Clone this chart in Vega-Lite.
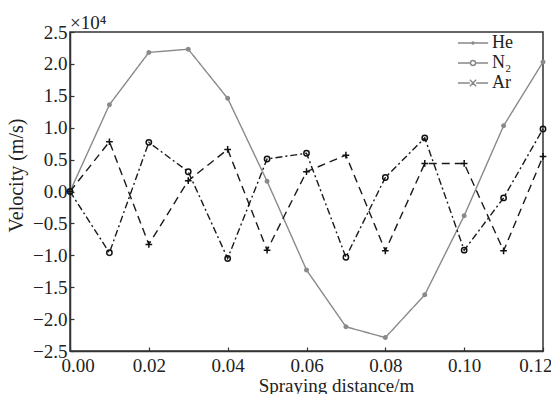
{
  "$schema": "https://vega.github.io/schema/vega-lite/v6.json",
  "width": 473,
  "height": 319,
  "autosize": {"type": "none"},
  "padding": {"left": 70, "top": 32, "right": 8, "bottom": 43},
  "config": {
    "font": "Liberation Serif",
    "view": {"stroke": "#333", "strokeWidth": 1.5},
    "axis": {
      "labelFont": "Liberation Serif", "labelFontSize": 19, "labelColor": "#222",
      "titleFont": "Liberation Serif", "titleFontSize": 20, "titleFontWeight": "normal", "titleColor": "#222",
      "domainColor": "#333", "domainWidth": 1.5, "tickColor": "#333", "tickSize": -4, "tickWidth": 1.2, "grid": false
    }
  },
  "title": {"text": "×10⁴", "anchor": "start", "frame": "group", "fontSize": 19, "font": "Liberation Serif", "fontWeight": "normal", "offset": -10, "color": "#222"},
  "data": {"values": [
    {"x": 0.00, "v": 0.00, "gas": "He"},
    {"x": 0.01, "v": 1.36, "gas": "He"},
    {"x": 0.02, "v": 2.18, "gas": "He"},
    {"x": 0.03, "v": 2.23, "gas": "He"},
    {"x": 0.04, "v": 1.46, "gas": "He"},
    {"x": 0.05, "v": 0.16, "gas": "He"},
    {"x": 0.06, "v": -1.23, "gas": "He"},
    {"x": 0.07, "v": -2.12, "gas": "He"},
    {"x": 0.08, "v": -2.29, "gas": "He"},
    {"x": 0.09, "v": -1.62, "gas": "He"},
    {"x": 0.10, "v": -0.38, "gas": "He"},
    {"x": 0.11, "v": 1.03, "gas": "He"},
    {"x": 0.12, "v": 2.03, "gas": "He"},
    {"x": 0.00, "v": 0.00, "gas": "N₂"},
    {"x": 0.01, "v": -0.96, "gas": "N₂"},
    {"x": 0.02, "v": 0.77, "gas": "N₂"},
    {"x": 0.03, "v": 0.31, "gas": "N₂"},
    {"x": 0.04, "v": -1.05, "gas": "N₂"},
    {"x": 0.05, "v": 0.51, "gas": "N₂"},
    {"x": 0.06, "v": 0.60, "gas": "N₂"},
    {"x": 0.07, "v": -1.03, "gas": "N₂"},
    {"x": 0.08, "v": 0.22, "gas": "N₂"},
    {"x": 0.09, "v": 0.84, "gas": "N₂"},
    {"x": 0.10, "v": -0.92, "gas": "N₂"},
    {"x": 0.11, "v": -0.10, "gas": "N₂"},
    {"x": 0.12, "v": 0.98, "gas": "N₂"},
    {"x": 0.00, "v": 0.00, "gas": "Ar"},
    {"x": 0.01, "v": 0.78, "gas": "Ar"},
    {"x": 0.02, "v": -0.83, "gas": "Ar"},
    {"x": 0.03, "v": 0.17, "gas": "Ar"},
    {"x": 0.04, "v": 0.66, "gas": "Ar"},
    {"x": 0.05, "v": -0.92, "gas": "Ar"},
    {"x": 0.06, "v": 0.31, "gas": "Ar"},
    {"x": 0.07, "v": 0.57, "gas": "Ar"},
    {"x": 0.08, "v": -0.93, "gas": "Ar"},
    {"x": 0.09, "v": 0.44, "gas": "Ar"},
    {"x": 0.10, "v": 0.44, "gas": "Ar"},
    {"x": 0.11, "v": -0.93, "gas": "Ar"},
    {"x": 0.12, "v": 0.55, "gas": "Ar"}
  ]},
  "encoding": {
    "x": {"field": "x", "type": "quantitative",
      "scale": {"domain": [0, 0.12], "nice": false, "zero": false},
      "axis": {"title": "Spraying distance/m", "values": [0, 0.02, 0.04, 0.06, 0.08, 0.1, 0.12], "format": ".2f",
        "labelFlush": true, "labelFlushOffset": 9, "labelPadding": 9,
        "titleX": 266, "titleY": 40, "titleFontSize": 19, "titleBaseline": "alphabetic"}},
    "y": {"field": "v", "type": "quantitative",
      "scale": {"domain": [-2.5, 2.5], "nice": false},
      "axis": {"title": "Velocity (m/s)", "values": [-2.5, -2, -1.5, -1, -0.5, 0, 0.5, 1, 1.5, 2, 2.5], "format": ".1f",
        "labelPadding": 7, "titleX": -48, "titleY": 143, "titleBaseline": "alphabetic", "titleAngle": -90}}
  },
  "layer": [
    {
      "mark": {"type": "line", "strokeWidth": 1.4, "clip": false},
      "encoding": {
        "color": {"field": "gas", "type": "nominal", "scale": {"domain": ["He", "N₂", "Ar"], "range": ["#8a8a8a", "#1a1a1a", "#1a1a1a"]}, "legend": null},
        "strokeDash": {"field": "gas", "type": "nominal", "scale": {"domain": ["He", "N₂", "Ar"], "range": [[1, 0], [7, 3, 2, 3], [8, 5]]}, "legend": null}
      }
    },
    {
      "mark": {"type": "point", "strokeWidth": 1.5, "opacity": 1, "clip": false},
      "encoding": {
        "shape": {"field": "gas", "type": "nominal", "scale": {"domain": ["He", "N₂", "Ar"], "range": ["circle", "circle", "M-1,0H1M0,-1V1"]}, "legend": null},
        "size": {"field": "gas", "type": "ordinal", "scale": {"domain": ["He", "N₂", "Ar"], "range": [12, 45, 75]}, "legend": null},
        "fill": {"field": "gas", "type": "nominal", "scale": {"domain": ["He", "N₂", "Ar"], "range": ["#8a8a8a", "transparent", "transparent"]}, "legend": null},
        "stroke": {"field": "gas", "type": "nominal", "scale": {"domain": ["He", "N₂", "Ar"], "range": ["#8a8a8a", "#111111", "#111111"]}, "legend": null}
      }
    },
    {
      "mark": {"type": "point", "filled": false, "opacity": 0, "strokeWidth": 1.4},
      "encoding": {
        "shape": {"field": "gas", "type": "nominal",
          "scale": {"domain": ["He", "N₂", "Ar"], "range": [
            "M-2.15,0H2.15M-0.14,0A0.14,0.14 0 1,0 0.14,0A0.14,0.14 0 1,0 -0.14,0",
            "M-2.15,0H-0.36M0.36,0H2.15M-0.36,0A0.36,0.36 0 1,0 0.36,0A0.36,0.36 0 1,0 -0.36,0",
            "M-2.15,0H-0.45M0.45,0H2.15M-0.45,-0.45L0.45,0.45M-0.45,0.45L0.45,-0.45"]},
          "legend": {"title": null, "orient": "none", "legendX": 394, "legendY": 2, "symbolSize": 196, "labelFontSize": 18, "labelFont": "Liberation Serif", "labelColor": "#222", "labelOffset": 10, "rowPadding": 2, "padding": 0, "symbolOpacity": 1, "symbolStrokeWidth": 1.4}},
        "color": {"field": "gas", "type": "nominal",
          "legend": {"title": null, "orient": "none", "legendX": 394, "legendY": 2, "symbolSize": 196, "labelFontSize": 18, "labelFont": "Liberation Serif", "labelColor": "#222", "labelOffset": 10, "rowPadding": 2, "padding": 0, "symbolOpacity": 1, "symbolStrokeWidth": 1.4}}
      }
    }
  ],
  "resolve": {"scale": {"shape": "independent"}}
}
